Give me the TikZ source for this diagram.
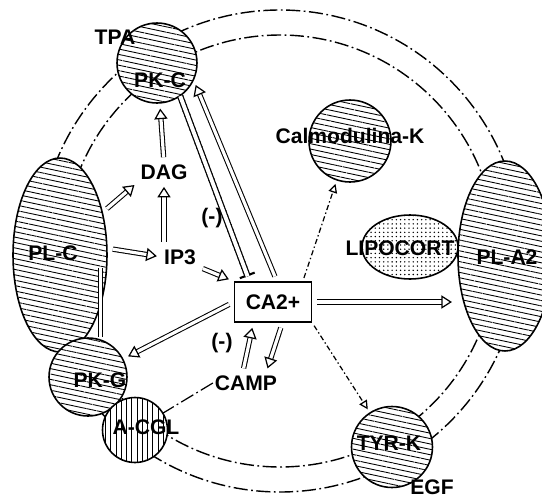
\documentclass[tikz,border=0pt]{standalone}
\usepackage{fontspec}
\setmainfont{Liberation Sans}
\usetikzlibrary{arrows.meta,calc,positioning,shapes.geometric,patterns.meta}

\begin{document}
\begin{tikzpicture}[
    x=0.02cm, y=-0.02cm,
    every node/.style={font=\fontsize{12}{14}\selectfont\bfseries},
    enzyme/.style={
        draw,
        line width=0.9pt,
        preaction={fill=white},
        pattern={Lines[angle=-12,distance=3pt,line width=0.5pt]}
    },
    ball/.style={enzyme, circle, inner sep=0pt},
    blob/.style={enzyme, ellipse, inner sep=0pt},
    ring/.style={line width=0.8pt, dash pattern=on 8pt off 2pt on 1pt off 2pt},
    hollow/.style={
        double, double distance=1.8pt, line width=0.6pt,
        -{Triangle[open,length=6pt,width=7.5pt,line width=0.7pt]},
        shorten >=3pt, shorten <=3pt
    },
    dotflow/.style={
        line width=0.7pt, dash pattern=on 3pt off 1.5pt on 0.8pt off 1.5pt,
        -{Triangle[open,length=5pt,width=5pt]}, shorten >=2pt, shorten <=2pt
    },
    chain/.style={
        line width=3.6pt, dash pattern=on 0.8pt off 2pt,
        -{Bar[width=9pt,line width=1.2pt]}, shorten >=3pt,
        postaction={draw, -, solid, double, double distance=2.2pt, line width=0.7pt, shorten >=3pt}
    },
    dbl/.style={double, double distance=1.6pt, line width=0.6pt},
    lab/.style={inner sep=1pt}
]

\useasboundingbox (0,0) rectangle (542,498);
\clip (0,0) rectangle (542,498);

%------------------------------------------------
% Ring
%------------------------------------------------
\draw[ring] (280,251) circle[radius=241];
\draw[ring] (280,251) circle[radius=216];

%------------------------------------------------
% Enzymes
%------------------------------------------------
\node[ball, minimum size=1.6cm]  (pkc)  at (157,63)  {};
\node[ball, minimum size=1.64cm] (calm) at (350,141) {};
\node[blob, minimum width=1.88cm, minimum height=3.88cm] (plc)  at (60,255)  {};
\node[blob, minimum width=1.88cm, minimum height=3.8cm]  (pla2) at (505,256) {};
\node[blob, minimum width=1.92cm, minimum height=1.28cm,
      pattern={Dots[distance=2.4pt,radius=0.45pt]}] (lipo) at (410,247) {};
\node[ball, minimum size=1.56cm] (pkg)  at (88,377)  {};
\node[ball, minimum size=1.3cm,
      pattern={Lines[angle=90,distance=3pt,line width=0.5pt]}] (acgl) at (135,430) {};
\node[ball, minimum size=1.62cm] (tyrk) at (392,447) {};

\node[draw, line width=0.8pt, fill=white, minimum width=1.54cm, minimum height=0.8cm]
    (ca) at (273,302) {CA2+};

%------------------------------------------------
% Labels
%------------------------------------------------
\node[lab] (tpa)   at (115,37)  {TPA};
\node[lab] (pkct)  at (160,80)  {PK-C};
\node[lab] (calmt) at (350,136) {Calmodulina-K};
\node[lab] (dag)   at (164,172) {DAG};
\node[lab] (ip3)   at (180,257) {IP3};
\node[lab] (plct)  at (53,253)  {PL-C};
\node[lab] (lipot) at (400,248) {LIPOCORT};
\node[lab] (pla2t) at (507,257) {PL-A2};
\node[lab] (inh1)  at (212,218) {(-)};
\node[lab] (inh2)  at (222,343) {(-)};
\node[lab] (camp)  at (246,383) {CAMP};
\node[lab] (pkgt)  at (100,380) {PK-G};
\node[lab] (acglt) at (146,427) {A-CGL};
\node[lab] (tyrkt) at (389,443) {TYR-K};
\node[lab] (egf)   at (432,487) {EGF};

%------------------------------------------------
% Arrows
%------------------------------------------------
\draw[hollow] (dag.north) -- (pkc);
\draw[hollow] (ip3.north -| dag.south) -- (dag.south);
\draw[hollow] (plc.45) -- (dag.south west);
\draw[hollow] (plc.8) -- (ip3.west);
\draw[hollow] (ip3.south east) -- (ca.north west);

\draw[chain] (pkc.-55) -- ($(ca.north west)!0.2!(ca.north east)$);
\draw[hollow] ($(ca.north west)!0.55!(ca.north east)$) -- (pkc.-25);

\draw[dotflow] ($(ca.north west)!0.88!(ca.north east)$) -- (calm);
\draw[hollow] (ca.east) -- (ca.east -| pla2.west);
\draw[hollow] (ca.west) -- (pkg);
\draw[dotflow] (ca.south east) -- (tyrk);

\draw[hollow] (camp.110) -- ($(ca.south west)!0.25!(ca.south east)$);
\draw[hollow] ($(ca.south west)!0.62!(ca.south east)$) --
    ($(camp.north)!0.6!(camp.north east)$);
\draw[ring, line width=0.7pt] (camp.west) -- (acgl);

\coordinate (plcpkg) at ($(plc.east)+(-7,13)$);
\draw[dbl] (plcpkg) -- (plcpkg |- pkg.north);

\end{tikzpicture}
\end{document}
